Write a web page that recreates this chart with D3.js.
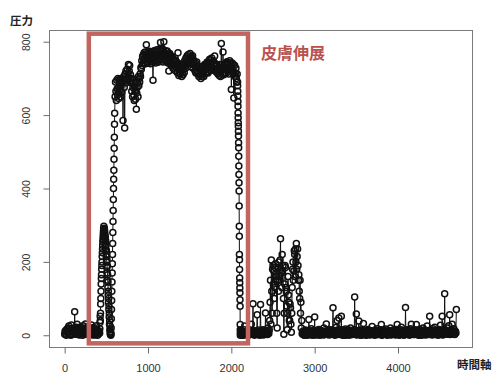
<!DOCTYPE html>
<html>
<head>
<meta charset="utf-8">
<script src="https://cdn.jsdelivr.net/npm/d3@7"></script>
<style>
  body { margin: 0; background: #fff; }
  svg { display: block; }
</style>
</head>
<body>
<script>
// pressure readings; each block has its own start time and sample step
const restStart = [3, 10, 12, 2, 0, 15, 18, 5, 6, 20,
  25, 8, 2, 12, 14, 0, 28, 10, 5, 16,
  10, 3, 20, 9, 64, 14, 15, 4, 3, 22,
  30, 6, 8, 18, 17, 1, 2, 13, 22, 7,
  11, 19, 4, 0, 26, 12, 9, 3, 19, 10,
  31, 6, 3, 15, 13, 2, 24, 11, 6, 18,
  16, 4, 2, 20, 28, 9, 10, 1, 5, 14,
  21, 7, 1, 12, 17, 3, 26, 15, 8, 0,
  13, 6, 4, 11];
const firstRise = [6, 18, 35, 52, 40, 60, 85, 100, 120, 140,
  155, 165, 180, 190, 200, 215, 225, 235, 245, 255,
  262, 270, 278, 285, 290, 297, 288, 280, 292, 270,
  284, 262, 275, 250, 268, 240, 258, 230, 245, 215,
  232, 200, 220, 185, 205, 170, 190, 150, 165, 130,
  145, 110, 120, 90, 100, 70, 80, 50, 60, 30,
  40, 15, 25, 5, 10, 2, 8, 0, 4, 20,
  45, 70, 95, 120, 145, 170, 195, 220, 250, 280,
  310, 340, 370, 400, 425, 450, 480, 510, 540, 575];
const shoulder = [605, 650, 690, 665, 640, 695, 672, 655, 700, 660, 645, 690, 670, 698, 650, 680, 700, 662, 688, 698,
  585, 690, 705, 675, 565, 712, 695, 720, 688, 705, 725, 695, 715, 738, 700, 720, 735, 690, 710, 700,
  688, 665, 700, 650, 675, 690, 655, 640, 680, 665, 643, 690, 616, 660, 675, 688, 650, 705, 680, 700];
const plateau = [690, 712, 705, 730, 725, 748, 735, 760, 742, 765, 750, 770, 755, 772, 740, 765, 792, 758, 768, 745,
  742, 770, 757, 748, 774, 760, 740, 768, 760, 752, 772, 745, 695, 766, 758, 774, 776, 750, 742, 768,
  760, 748, 778, 765, 744, 772, 762, 780, 750, 776, 798, 760, 758, 782, 776, 750, 745, 778, 800, 765,
  770, 752, 748, 775, 760, 745, 775, 758, 742, 768, 720, 755, 768, 740, 748, 762, 740, 755, 760, 738,
  728, 752, 745, 738, 722, 750, 748, 730, 732, 745, 716, 738, 770, 725, 708, 740, 735, 712, 722, 730,
  722, 705, 715, 730, 710, 740, 725, 716, 748, 735, 728, 756, 742, 738, 762, 748, 740, 765, 752, 745,
  745, 768, 755, 732, 760, 756, 740, 762, 728, 750, 748, 735, 738, 720, 742, 715, 730, 745, 718, 728,
  730, 712, 705, 725, 722, 732, 710, 700, 728, 718, 705, 730, 728, 712, 705, 735, 738, 722, 715, 738,
  725, 740, 745, 718, 715, 740, 735, 725, 752, 730, 722, 750, 740, 756, 728, 745, 728, 748, 738, 722,
  761, 735, 740, 718, 720, 738, 735, 715, 712, 730, 728, 708, 738, 722, 705, 725, 795, 730, 722, 710,
  772, 728, 710, 738, 730, 715, 740, 728, 715, 745, 745, 722, 725, 740, 712, 732, 748, 725, 735, 742,
  670, 728, 742, 715, 720, 738, 647, 712, 735, 705, 715, 728, 700, 690, 712];
const fallOff = [690, 680, 665, 652, 637, 624, 606, 593, 579, 570,
  556, 543, 525, 511, 488, 461, 438, 416, 393, 352,
  297, 270, 220, 206, 179, 156, 143, 129, 116, 97,
  79, 29, 15, 0, 8];
const afterDrop = [5, 12, 2, 8, 12, 0, 0, 6, 8, 15,
  25, 4, 3, 10, 10, 2, 1, 9, 6, 0,
  14, 7, 2, 11, 9, 3, 30, 5, 4, 12,
  86, 8, 7, 1, 1, 10, 12, 4, 5, 9,
  56, 2, 3, 14, 9, 6, 0, 11, 84, 3,
  6, 13, 2, 8, 15, 1, 4, 10, 10, 5,
  61, 7, 3, 12, 8, 2, 20, 9, 5, 14];
const secondBump = [40, 90, 150, 30, 205, 120, 60, 180, 190, 140, 175, 100, 130, 185, 195, 150, 160, 60, 20, 150,
  185, 120, 200, 160, 150, 205, 263, 180, 170, 130, 220, 175, 190, 100, 3, 60, 140, 190, 185, 130,
  120, 80, 15, 60, 160, 110, 90, 40, 40, 85, 75, 30, 8, 60, 130, 180, 200, 150, 175, 230,
  220, 160, 235, 200, 250, 180, 215, 235, 190, 150, 165, 120, 100, 150, 60, 90, 20, 40, 4, 10];
const restEnd = [2, 8, 9, 0, 1, 12, 14, 3, 5, 10, 0, 6, 11, 2, 43, 9, 3, 12, 8, 1,
  18, 4, 2, 11, 6, 0, 13, 7, 50, 3, 4, 12, 1, 8, 10, 2, 7, 14, 16, 5,
  0, 9, 5, 13, 12, 2, 3, 10, 8, 1, 20, 6, 2, 11, 9, 4, 31, 7, 4, 12,
  11, 3, 1, 9, 6, 14, 15, 2, 3, 8, 9, 12, 75, 5, 2, 10, 12, 0, 5, 13,
  22, 6, 40, 3, 7, 11, 47, 2, 10, 8, 3, 14, 52, 5, 14, 1, 0, 9, 8, 3,
  4, 12, 17, 0, 2, 8, 9, 3, 6, 15, 13, 1, 1, 10, 20, 6, 5, 12, 10, 2,
  3, 9, 15, 4, 104, 7, 8, 13, 58, 1, 2, 11, 12, 6, 39, 3, 4, 14, 9, 0,
  0, 10, 14, 3, 6, 32, 5, 8, 3, 12, 11, 0, 1, 9, 7, 13, 16, 4, 2, 8,
  9, 1, 5, 12, 12, 3, 24, 7, 3, 10, 8, 2, 0, 14, 13, 5, 6, 11, 18, 2,
  2, 9, 10, 4, 4, 13, 15, 6, 29, 0, 1, 10, 8, 14, 12, 3, 3, 7, 17, 5,
  6, 11, 0, 8, 11, 2, 4, 13, 9, 5, 20, 1, 2, 12, 7, 9, 14, 3, 5, 10,
  10, 2, 1, 12, 16, 6, 29, 3, 4, 11, 8, 0, 13, 9, 2, 15, 22, 4, 6, 12,
  11, 3, 0, 10, 9, 2, 76, 8, 3, 13, 15, 5, 5, 11, 10, 1, 1, 9, 18, 4,
  30, 8, 4, 12, 12, 2, 7, 10, 2, 14, 14, 3, 29, 6, 6, 11, 9, 1, 0, 13,
  16, 4, 3, 12, 11, 0, 5, 9, 20, 3, 8, 14, 2, 6, 13, 1, 6, 10, 25, 4,
  4, 13, 10, 2, 52, 8, 7, 11, 14, 3, 1, 12, 18, 6, 5, 9, 22, 2, 9, 13,
  3, 10, 12, 4, 0, 9, 16, 2, 6, 14, 27, 5, 8, 12, 52, 1, 11, 6, 2, 10,
  113, 4, 14, 9, 5, 12, 20, 3, 9, 11, 26, 7, 56, 2, 3, 13, 12, 5, 30, 8,
  7, 12, 18, 3, 2, 10, 10, 6, 70];

const xTicks = [0, 1000, 2000, 3000, 4000];
const yTicks = [0, 200, 400, 600, 800];
const yLabel = "圧力";
const xLabel = "時間軸";
const boxLabel = "皮膚伸展";
const boxRange = [290, 2200];   // time range marked in red
const boxValues = [-22, 822];

const segments = [
  { start: 0, step: 5, values: restStart },
  { start: 420, step: 2, values: firstRise },
  { start: 600, step: 5, values: shoulder },
  { start: 900, step: 5, values: plateau },
  { start: 2075, step: 1, values: fallOff },
  { start: 2110, step: 5, values: afterDrop },
  { start: 2460, step: 5, values: secondBump },
  { start: 2860, step: 5, values: restEnd }
];

const width = 496, height = 373;
const plot = { left: 49, right: 472, top: 30, bottom: 347 };
const r = 3.0;

const points = segments
  .flatMap(s => s.values.map((v, i) => ({ t: s.start + i * s.step, v: v })))
  .sort((a, b) => a.t - b.t);

const tExt = d3.extent(points, d => d.t);
const vExt = d3.extent(points, d => d.v);
const tPad = (tExt[1] - tExt[0]) * 0.04;
const vPad = (vExt[1] - vExt[0]) * 0.04;

const x = d3.scaleLinear().domain([tExt[0] - tPad, tExt[1] + tPad]).range([plot.left, plot.right]);
const y = d3.scaleLinear().domain([vExt[0] - vPad, vExt[1] + vPad]).range([plot.bottom, plot.top]);

const svg = d3.select("body").append("svg")
  .attr("width", width)
  .attr("height", height);

// lines between points, cut back at the circles like R's type="b"
const path = d3.path();
for (let i = 1; i < points.length; i++) {
  const x0 = x(points[i - 1].t), y0 = y(points[i - 1].v);
  const x1 = x(points[i].t), y1 = y(points[i].v);
  const dx = x1 - x0, dy = y1 - y0;
  const len = Math.sqrt(dx * dx + dy * dy);
  if (len <= 2 * r) continue;
  const ux = dx / len, uy = dy / len;
  path.moveTo(x0 + ux * r, y0 + uy * r);
  path.lineTo(x1 - ux * r, y1 - uy * r);
}
svg.append("path")
  .attr("d", path.toString())
  .attr("fill", "none")
  .attr("stroke", "#111")
  .attr("stroke-width", 1);

svg.append("g").selectAll("circle")
  .data(points)
  .enter().append("circle")
  .attr("cx", d => x(d.t))
  .attr("cy", d => y(d.v))
  .attr("r", r)
  .attr("fill", "none")
  .attr("stroke", "#111")
  .attr("stroke-width", 1.5);

// frame
svg.append("rect")
  .attr("x", plot.left + 0.5)
  .attr("y", plot.top + 0.5)
  .attr("width", plot.right - plot.left)
  .attr("height", plot.bottom - plot.top)
  .attr("fill", "none")
  .attr("stroke", "#7a7a7a")
  .attr("stroke-width", 1);

const xAxis = svg.append("g")
  .attr("transform", "translate(0," + (plot.bottom + 0.5) + ")")
  .call(d3.axisBottom(x).tickValues(xTicks).tickSize(6).tickPadding(11).tickFormat(d3.format("d")));
const yAxis = svg.append("g")
  .attr("transform", "translate(" + (plot.left + 0.5) + ",0)")
  .call(d3.axisLeft(y).tickValues(yTicks).tickSize(6).tickFormat(d3.format("d")));

[xAxis, yAxis].forEach(g => {
  g.select(".domain").remove();
  g.selectAll(".tick line").attr("stroke", "#6a6a6a");
  g.selectAll(".tick text")
    .attr("fill", "#333")
    .attr("font-family", "'Liberation Sans', Arial, sans-serif");
});
xAxis.selectAll(".tick text").attr("font-size", 11);
yAxis.selectAll(".tick text")
  .attr("font-size", 10.5)
  .attr("transform", "rotate(-90)")
  .attr("x", 0)
  .attr("y", -20)
  .attr("dy", 0)
  .attr("text-anchor", "middle");

// red annotation box
svg.append("rect")
  .attr("x", x(boxRange[0]))
  .attr("y", y(boxValues[1]))
  .attr("width", x(boxRange[1]) - x(boxRange[0]))
  .attr("height", y(boxValues[0]) - y(boxValues[1]))
  .attr("fill", "none")
  .attr("stroke", "#c26560")
  .attr("stroke-width", 4.5);

svg.append("text")
  .attr("x", 261)
  .attr("y", 58.5)
  .attr("font-family", "'Noto Sans CJK JP', sans-serif")
  .attr("font-weight", "bold")
  .attr("font-size", 16)
  .attr("fill", "#b9524e")
  .text(boxLabel);

svg.append("text")
  .attr("x", 10)
  .attr("y", 25)
  .attr("font-family", "'Noto Sans CJK JP', sans-serif")
  .attr("font-weight", "bold")
  .attr("font-size", 11.5)
  .attr("fill", "#222")
  .text(yLabel);

svg.append("text")
  .attr("x", 457)
  .attr("y", 369)
  .attr("font-family", "'Noto Sans CJK JP', sans-serif")
  .attr("font-weight", "bold")
  .attr("font-size", 11.5)
  .attr("fill", "#222")
  .text(xLabel);
</script>
</body>
</html>
